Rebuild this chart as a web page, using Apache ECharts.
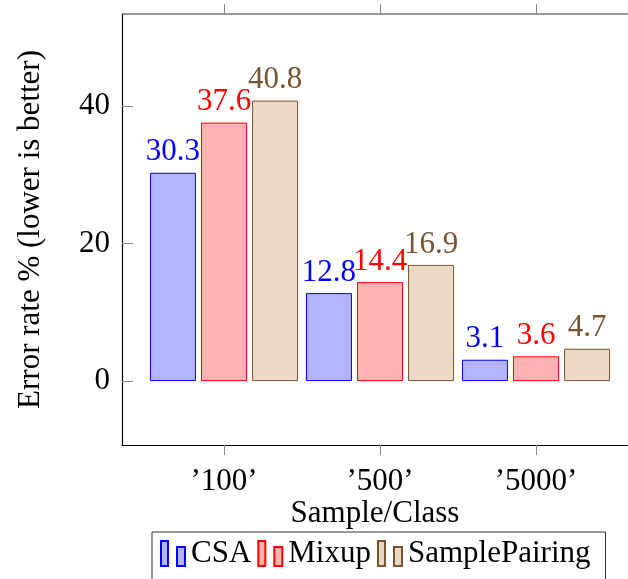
<!DOCTYPE html>
<html><head><meta charset="utf-8">
<script src="https://cdn.jsdelivr.net/npm/echarts@6/dist/echarts.min.js"></script>
<style>html,body{margin:0;padding:0;background:#fff}#c{width:628px;height:579px}</style>
</head><body><div id="c"></div>
<script>
const categories = ['’100’', '’500’', '’5000’'];
const csa = [30.3, 12.8, 3.1];
const mixup = [37.6, 14.4, 3.6];
const samplePairing = [40.8, 16.9, 4.7];
const yTicks = [0, 20, 40];
const yMin = -9.3, yMax = 53.4;

const F = 'Liberation Serif';
const FS = 31;
const chart = echarts.init(document.getElementById('c'), null, {renderer: 'canvas'});
const brown = '#7a5430';
function ser(name, data, fill, stroke) {
  return {
    name, type: 'bar', data, xAxisIndex: 2, yAxisIndex: 1,
    barWidth: 46, barGap: '11%',
    itemStyle: {color: fill, borderColor: stroke, borderWidth: 1},
    label: {show: true, position: 'top', distance: 5, color: stroke, fontFamily: F, fontSize: FS,
      formatter: p => p.value.toFixed(1)},
    emphasis: {disabled: true}
  };
}
const legendIcon = 'path://M0,0h7v25h-7z M16,6h8v19h-8z';
chart.setOption({
  animation: false,
  grid: [
    {left: 122, right: -10, top: 14, bottom: 134},
    {left: 146, width: 468, top: 14, bottom: 134}
  ],
  xAxis: [
    {gridIndex: 0, type: 'value', min: 0, max: 1, position: 'bottom',
      axisLine: {show: true, onZero: false, lineStyle: {color: '#000', width: 1.2}}, axisTick: {show: false},
      axisLabel: {show: false}, splitLine: {show: false},
      name: 'Sample/Class', nameLocation: 'middle', nameGap: 53,
      nameTextStyle: {fontFamily: F, fontSize: FS, color: '#000'}},
    {gridIndex: 0, type: 'value', min: 0, max: 1, position: 'top',
      axisLine: {show: true, onZero: false, lineStyle: {color: '#777', width: 1.5}}, axisTick: {show: false},
      axisLabel: {show: false}, splitLine: {show: false}},
    {gridIndex: 1, type: 'category', data: categories, position: 'bottom',
      axisLine: {show: false, onZero: false}, axisTick: {show: true, alignWithLabel: true, length: 10, lineStyle: {color: '#888'}},
      axisLabel: {fontFamily: F, fontSize: FS, color: '#000', margin: 21}, splitLine: {show: false}},
    {gridIndex: 1, type: 'category', data: categories, position: 'top',
      axisLine: {show: false, onZero: false}, axisTick: {show: true, alignWithLabel: true, length: 10, lineStyle: {color: '#888'}},
      axisLabel: {show: false}, splitLine: {show: false}}
  ],
  yAxis: [
    {gridIndex: 0, type: 'value', min: yMin, max: yMax,
      axisLine: {show: true, onZero: false, lineStyle: {color: '#000', width: 1.2}},
      axisTick: {show: true, inside: true, length: 11, customValues: yTicks, lineStyle: {color: '#888'}},
      axisLabel: {customValues: yTicks, fontFamily: F, fontSize: FS, color: '#000', margin: 12},
      splitLine: {show: false},
      name: 'Error rate % (lower is better)', nameLocation: 'middle', nameGap: 76,
      nameTextStyle: {fontFamily: F, fontSize: FS, color: '#000'}},
    {gridIndex: 1, type: 'value', min: yMin, max: yMax, show: false, splitLine: {show: false}}
  ],
  legend: {
    left: 152, top: 532, orient: 'horizontal',
    data: ['CSA', 'Mixup', 'SamplePairing'],
    icon: legendIcon, itemWidth: 24, itemHeight: 25, itemGap: 6,
    borderColor: '#333', borderWidth: 1, padding: [6, 15, 20, 8],
    textStyle: {fontFamily: F, fontSize: FS, color: '#000', padding: [0, 0, 0, 1]}
  },
  series: [
    ser('CSA', csa, '#b3b3ff', '#0000ff'),
    ser('Mixup', mixup, '#ffb3b3', '#ff0000'),
    ser('SamplePairing', samplePairing, '#ebd9c6', brown)
  ]
});
</script></body></html>
